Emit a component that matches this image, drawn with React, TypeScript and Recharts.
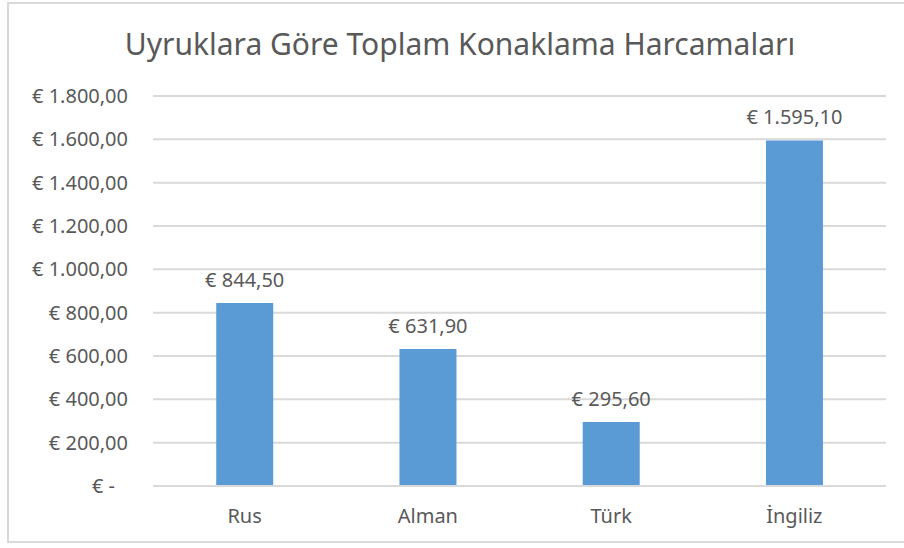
import { BarChart, Bar, XAxis, YAxis, CartesianGrid, LabelList } from 'recharts'

const categories = ['Rus', 'Alman', 'Türk', 'İngiliz']
const spending = [844.5, 631.9, 295.6, 1595.1]
const yTicks = [0, 200, 400, 600, 800, 1000, 1200, 1400, 1600, 1800]

const data = categories.map((name, i) => ({ name, total: spending[i] }))

const FONT = '"Noto Sans", sans-serif'
const TEXT = '#595959'
const GRID = '#D9D9D9'
const BAR = '#5B9BD5'

function euro(v: number) {
  if (v === 0) return '€ -'
  const [int, dec] = v.toFixed(2).split('.')
  const withDots = int.replace(/\B(?=(\d{3})+(?!\d))/g, '.')
  return `€ ${withDots},${dec}`
}

function YTick(props: any) {
  const { y, payload } = props
  const v = Number(payload.value)
  return (
    <text
      x={128}
      y={y}
      dx={v === 0 ? -13 : 0}
      dy={7}
      textAnchor="end"
      fill={TEXT}
      fontSize={20}
      fontFamily={FONT}
    >
      {euro(v)}
    </text>
  )
}

function XTick(props: any) {
  const { x, y, payload } = props
  return (
    <text x={x} y={y + 29} textAnchor="middle" fill={TEXT} fontSize={20} fontFamily={FONT}>
      {payload.value}
    </text>
  )
}

function ValueLabel(props: any) {
  const { x, y, width, value } = props
  return (
    <text
      x={Number(x) + Number(width) / 2}
      y={Number(y) - 16}
      textAnchor="middle"
      fill={TEXT}
      fontSize={20}
      fontFamily={FONT}
    >
      {euro(Number(value))}
    </text>
  )
}

export default function App() {
  return (
    <div style={{ position: 'absolute', left: 0, top: 0, width: 904, height: 548, background: '#fff' }}>
      <div
        style={{
          position: 'absolute',
          left: 7,
          top: 2,
          width: 904,
          height: 541,
          border: `2px solid ${GRID}`,
          boxSizing: 'border-box',
        }}
      />
      <div
        style={{
          position: 'absolute',
          left: 0,
          top: 24,
          width: 920,
          textAlign: 'center',
          fontFamily: FONT,
          fontSize: 30,
          color: TEXT,
          lineHeight: '40px',
        }}
      >
        Uyruklara Göre Toplam Konaklama Harcamaları
      </div>
      <BarChart
        width={904}
        height={548}
        data={data}
        margin={{ top: 96, right: 18, bottom: 32, left: 0 }}
        barCategoryGap="34.5%"
        style={{ position: 'absolute', left: 0, top: 0 }}
      >
        <CartesianGrid vertical={false} stroke={GRID} strokeWidth={2} />
        <XAxis
          dataKey="name"
          height={30}
          axisLine={{ stroke: GRID, strokeWidth: 2 }}
          tickLine={false}
          tick={<XTick />}
          interval={0}
        />
        <YAxis
          width={153}
          domain={[0, 1800]}
          ticks={yTicks}
          axisLine={false}
          tickLine={false}
          tick={<YTick />}
          interval={0}
        />
        <Bar dataKey="total" fill={BAR} isAnimationActive={false}>
          <LabelList dataKey="total" content={<ValueLabel />} />
        </Bar>
      </BarChart>
    </div>
  )
}
